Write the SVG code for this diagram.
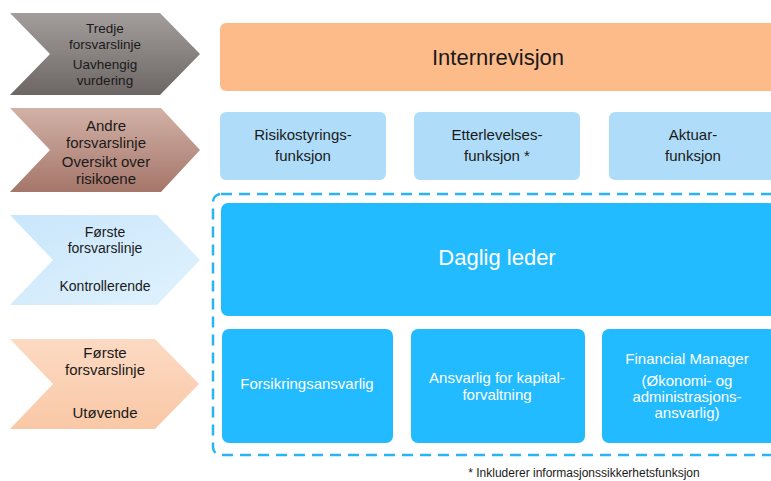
<svg xmlns="http://www.w3.org/2000/svg" width="771" height="481" viewBox="0 0 771 481">
<defs>
<linearGradient id="gGray" x1="0" y1="0" x2="0" y2="1"><stop offset="0" stop-color="#a39d9c"/><stop offset="1" stop-color="#6c6665"/></linearGradient>
<linearGradient id="gBrown" x1="0" y1="0" x2="0" y2="1"><stop offset="0" stop-color="#d2b1a6"/><stop offset="1" stop-color="#a5766a"/></linearGradient>
<linearGradient id="gBlue" x1="0" y1="0" x2="1" y2="1"><stop offset="0" stop-color="#c9e6fb"/><stop offset="1" stop-color="#e0f2fd"/></linearGradient>
<linearGradient id="gPeach" x1="0" y1="0" x2="0" y2="1"><stop offset="0" stop-color="#fcdac3"/><stop offset="1" stop-color="#f9c8a6"/></linearGradient>
</defs>
<style>
text{font-family:"Liberation Sans",Arial,sans-serif;text-anchor:middle;}
.dk{fill:#1a1a1a;}
.wt{fill:#ffffff;}
.orange{fill:#fdbb8a;}
.lblue{fill:#aedcf9;}
.blue{fill:#22bbff;}
.dash{fill:none;stroke:#29b5f4;stroke-width:2.5;stroke-dasharray:11 7;}
</style>
<rect width="771" height="481" fill="#ffffff"/>
<g id="chevron-tredje">
<polygon points="10,13 160,13 200,54 160,95 10,95 50,54" fill="url(#gGray)"/>
<text class="dk" font-size="13.5" x="105" y="33">Tredje</text>
<text class="dk" font-size="13.5" x="105" y="49">forsvarslinje</text>
<text class="dk" font-size="13.5" x="105" y="69">Uavhengig</text>
<text class="dk" font-size="13.5" x="105" y="85">vurdering</text>
</g>
<g id="chevron-andre">
<polygon points="10,108 161,108 200,150 161,192 10,192 50,150" fill="url(#gBrown)"/>
<text class="dk" font-size="15" x="106" y="131">Andre</text>
<text class="dk" font-size="15" x="106" y="148">forsvarslinje</text>
<text class="dk" font-size="15" x="106" y="167">Oversikt over</text>
<text class="dk" font-size="15" x="106" y="184">risikoene</text>
</g>
<g id="chevron-forste-kontroll">
<polygon points="10,215 157,215 200,260 157,305 10,305 53,260" fill="url(#gBlue)"/>
<text class="dk" font-size="14" x="105" y="237">Første</text>
<text class="dk" font-size="14" x="105" y="253">forsvarslinje</text>
<text class="dk" font-size="14" x="105" y="291">Kontrollerende</text>
</g>
<g id="chevron-forste-utovende">
<polygon points="10,339 155,339 199,384 155,429 10,429 53,384" fill="url(#gPeach)"/>
<text class="dk" font-size="15" x="105" y="358">Første</text>
<text class="dk" font-size="15" x="105" y="375">forsvarslinje</text>
<text class="dk" font-size="15" x="105" y="418">Utøvende</text>
</g>
<g id="internrevisjon">
<rect class="orange" x="220" y="23" width="556" height="68" rx="6"/>
<text class="dk" font-size="22" x="498" y="65">Internrevisjon</text>
</g>
<g id="risikostyring">
<rect class="lblue" x="220" y="112" width="166" height="68" rx="6"/>
<text class="dk" font-size="15" x="303" y="140">Risikostyrings-</text>
<text class="dk" font-size="15" x="303" y="161">funksjon</text>
</g>
<g id="etterlevelse">
<rect class="lblue" x="414" y="112" width="166" height="68" rx="6"/>
<text class="dk" font-size="15" x="497" y="140">Etterlevelses-</text>
<text class="dk" font-size="15" x="497" y="161">funksjon *</text>
</g>
<g id="aktuar">
<rect class="lblue" x="609" y="112" width="168" height="68" rx="6"/>
<text class="dk" font-size="15" x="693" y="140">Aktuar-</text>
<text class="dk" font-size="15" x="693" y="161">funksjon</text>
</g>
<g id="forste-linje-ramme">
<rect class="dash" x="213" y="194" width="580" height="261" rx="8"/>
</g>
<g id="daglig-leder">
<rect class="blue" x="221" y="203" width="555" height="113" rx="7"/>
<text class="wt" font-size="22" x="497" y="265">Daglig leder</text>
</g>
<g id="forsikringsansvarlig">
<rect class="blue" x="222" y="329" width="171" height="114" rx="7"/>
<text class="wt" font-size="15" x="307" y="389">Forsikringsansvarlig</text>
</g>
<g id="kapitalforvaltning">
<rect class="blue" x="411" y="329" width="174" height="114" rx="7"/>
<text class="wt" font-size="15" x="497" y="383">Ansvarlig for kapital-</text>
<text class="wt" font-size="15" x="497" y="400">forvaltning</text>
</g>
<g id="financial-manager">
<rect class="blue" x="602" y="329" width="174" height="114" rx="7"/>
<text class="wt" font-size="15" x="687" y="364">Financial Manager</text>
<text class="wt" font-size="15" x="687" y="386">(Økonomi- og</text>
<text class="wt" font-size="15" x="687" y="402">administrasjons-</text>
<text class="wt" font-size="15" x="687" y="418">ansvarlig)</text>
</g>
<g id="connectors"></g>
<text class="dk" font-size="12" x="584" y="477">* Inkluderer informasjonssikkerhetsfunksjon</text>
</svg>
